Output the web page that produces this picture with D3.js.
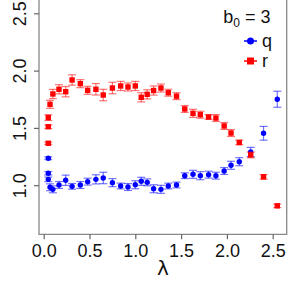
<!DOCTYPE html>
<html><head><meta charset="utf-8">
<script src="https://cdn.jsdelivr.net/npm/d3@7"></script>
<style>body{margin:0;background:#fff}svg{display:block}</style>
</head><body>
<script>
const lambdaQ = [0.05,0.05,0.05,0.069,0.10,0.167,0.24,0.31,0.40,0.48,0.57,0.65,0.75,0.84,0.92,1.0,1.065,1.13,1.20,1.28,1.36,1.45,1.54,1.63,1.71,1.80,1.88,1.97,2.045,2.135,2.26,2.40,2.55];
const qValues = [1.235,1.104,1.051,0.982,0.964,1.002,1.043,0.99,1.002,1.031,1.051,1.063,1.022,0.993,0.984,1.004,1.034,1.025,0.969,0.964,0.993,1.002,1.083,1.095,1.083,1.092,1.083,1.124,1.174,1.205,1.29,1.453,1.75];
const qErrors = [0.012,0.015,0.02,0.03,0.03,0.03,0.045,0.025,0.03,0.03,0.04,0.05,0.035,0.025,0.03,0.035,0.035,0.03,0.035,0.035,0.025,0.025,0.025,0.035,0.035,0.03,0.03,0.03,0.035,0.035,0.04,0.06,0.07];
const lambdaR = [0.05,0.05,0.05,0.069,0.10,0.167,0.24,0.31,0.40,0.48,0.57,0.65,0.75,0.84,0.92,1.0,1.065,1.13,1.20,1.28,1.36,1.45,1.54,1.63,1.71,1.80,1.88,1.97,2.045,2.135,2.26,2.40,2.55];
const rValues = [1.366,1.51,1.59,1.706,1.796,1.837,1.816,1.918,1.886,1.828,1.837,1.787,1.848,1.866,1.857,1.866,1.767,1.793,1.826,1.848,1.807,1.777,1.665,1.627,1.615,1.595,1.586,1.517,1.455,1.373,1.264,1.073,0.82];
const rErrors = [0.01,0.015,0.025,0.035,0.04,0.04,0.045,0.045,0.035,0.035,0.05,0.05,0.05,0.04,0.035,0.04,0.04,0.04,0.04,0.035,0.03,0.03,0.03,0.035,0.03,0.02,0.03,0.03,0.03,0.02,0.025,0.02,0.015];
const xTicks = [0.0,0.5,1.0,1.5,2.0,2.5];
const yTicks = [1.0,1.5,2.0,2.5];
const seriesNames = ["q","r"];

const W = 299, H = 281;
const mLeft = 39, mRight = 286.7, mBottom = 234.3, mTop = -3;
const x = d3.scaleLinear().domain([0, 2.5]).range([43.7, 272.7]);
const y = d3.scaleLinear().domain([1.0, 2.5]).range([185.2, 13.3]);

const svg = d3.select("body").append("svg").attr("width", W).attr("height", H);

// frame
svg.append("path").attr("d", `M${mLeft},${mTop}V${mBottom}H${mRight}V${mTop}`)
  .attr("fill","none").attr("stroke","#888").attr("stroke-width",1.3);

// x axis
const xa = svg.append("g").attr("transform", `translate(0,${mBottom})`)
  .call(d3.axisBottom(x).tickValues(xTicks).tickFormat(d3.format(".1f")).tickSize(5).tickSizeOuter(0));
xa.select(".domain").remove();
xa.selectAll("line").attr("stroke","#666").attr("stroke-width",1.2);
xa.selectAll("text").attr("font-family","Liberation Sans, Arial, sans-serif").attr("font-size",18).attr("fill","#111").attr("dy",null).attr("y",22.5);

// y axis
const ya = svg.append("g").attr("transform", `translate(${mLeft},0)`)
  .call(d3.axisLeft(y).tickValues(yTicks).tickFormat(d3.format(".1f")).tickSize(5).tickSizeOuter(0));
ya.select(".domain").remove();
ya.selectAll("line").attr("stroke","#666").attr("stroke-width",1.2);
ya.selectAll("text").attr("font-family","Liberation Sans, Arial, sans-serif").attr("font-size",18).attr("fill","#111")
  .attr("x",null).attr("dy",null).attr("text-anchor","middle")
  .attr("transform","translate(-13.5,0) rotate(-90)");

// x label
svg.append("text").attr("x",(mLeft+mRight)/2).attr("y",275).attr("text-anchor","middle")
  .attr("font-family","DejaVu Sans, sans-serif").attr("font-size",20).attr("fill","#111").text("λ");

function drawSeries(lams, vals, errs, color, shape) {
  const data = lams.map((l,i)=>({l, v: vals[i], e: errs[i]}));
  const g = svg.append("g");
  const eb = g.selectAll("g.eb").data(data).join("g").attr("stroke", color).attr("stroke-opacity",0.55).attr("stroke-width",1.2);
  eb.append("line").attr("x1",d=>x(d.l)).attr("x2",d=>x(d.l)).attr("y1",d=>y(d.v+d.e)).attr("y2",d=>y(d.v-d.e));
  eb.append("line").attr("x1",d=>x(d.l)-4).attr("x2",d=>x(d.l)+4).attr("y1",d=>y(d.v+d.e)).attr("y2",d=>y(d.v+d.e));
  eb.append("line").attr("x1",d=>x(d.l)-4).attr("x2",d=>x(d.l)+4).attr("y1",d=>y(d.v-d.e)).attr("y2",d=>y(d.v-d.e));
  if (shape === "circle") {
    g.selectAll("circle").data(data).join("circle").attr("cx",d=>x(d.l)).attr("cy",d=>y(d.v)).attr("r",2.7).attr("fill",color);
  } else {
    g.selectAll("rect").data(data).join("rect").attr("x",d=>x(d.l)-2.7).attr("y",d=>y(d.v)-2.7).attr("width",5.4).attr("height",5.4).attr("fill",color);
  }
}
drawSeries(lambdaQ, qValues, qErrors, "#0000ff", "circle");
drawSeries(lambdaR, rValues, rErrors, "#ff0000", "square");

// legend
const lg = svg.append("g").attr("font-family","Liberation Sans, Arial, sans-serif").attr("fill","#111");
const t = lg.append("text").attr("x",270.5).attr("y",23).attr("text-anchor","end").attr("font-size",18);
t.append("tspan").text("b");
t.append("tspan").attr("font-size",12).attr("dy",4).text("0");
t.append("tspan").attr("dy",-4).text(" = 3");
const colors = ["#0000ff","#ff0000"];
seriesNames.forEach((n,i)=>{
  const cy = 41 + i*20;
  lg.append("line").attr("x1",244).attr("x2",257).attr("y1",cy).attr("y2",cy).attr("stroke",colors[i]).attr("stroke-width",1.5);
  if (i===0) lg.append("circle").attr("cx",250.5).attr("cy",cy).attr("r",3.5).attr("fill",colors[i]);
  else lg.append("rect").attr("x",247).attr("y",cy-3.5).attr("width",7).attr("height",7).attr("fill",colors[i]);
  lg.append("text").attr("x",262).attr("y",cy+6).attr("font-size",18).text(n);
});
</script>
</body></html>
